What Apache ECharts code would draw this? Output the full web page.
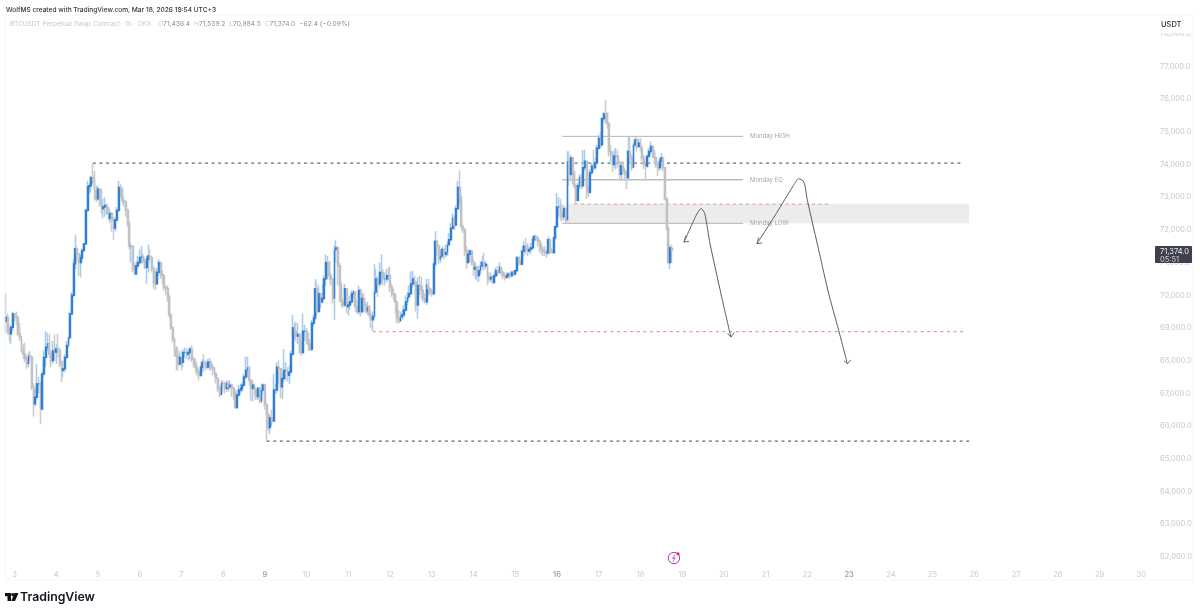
<!DOCTYPE html>
<html><head><meta charset="utf-8">
<style>html,body{margin:0;padding:0;background:#fff}#c{width:1200px;height:614px}</style>
<script src="https://cdn.jsdelivr.net/npm/echarts@6/dist/echarts.min.js"></script>
</head><body><div id="c"></div>
<script>
const opens=[69200,69330,68920,68820,69020,69430,69380,69330,68820,68720,68310,68200,68050,67900,68155,68100,67190,66680,66880,67290,67290,66520,67590,68100,68410,68510,68200,68000,68300,68260,68360,68310,67900,67700,67750,68100,68460,68700,69430,70000,70960,71420,71270,71000,71150,71370,71570,72600,
73310,73350,73600,73500,73200,72950,73250,72800,72650,72700,72750,72500,72350,72500,72300,72050,72300,72600,73300,73250,72900,72850,72600,72200,71500,71500,70800,70650,70900,71000,71150,71200,71050,70850,71100,71200,71150,70800,70400,70350,70700,71000,70650,70600,70250,70200,69950,69400,69000,68650,68350,68150,67900,68100,67950,68250,68250,68200,68250,68350,68050,67900,67800,67650,67550,67800,67950,67900,67800,67950,67950,67800,67750,67600,67450,67150,66950,67320,67300,67150,67300,67200,67250,67150,66950,66560,66950,67100,67150,67250,67500,67700,67800,67400,67150,67250,67100,66900,67150,66750,67100,67250,66650,
66350,65950,66250,66150,67100,67100,67800,67750,67200,67450,67700,67700,67550,67650,68200,69000,68900,68750,68800,68300,68250,68900,68900,68650,68500,68350,69150,69300,70200,69500,70050,69800,69900,70500,71000,71000,70600,70500,69900,71400,71450,70900,70300,69800,69700,70200,69650,69700,69800,70050,70100,69650,69500,70150,69500,69900,69700,69500,69650,69400,69250,69350,70100,70500,70350,70700,70700,70500,70500,70600,70600,70250,70050,70000,69800,69300,69200,69350,69400,69550,69800,69950,70050,70350,70500,70400,69700,70300,70250,70150,69900,69800,70300,70200,70100,70050,70950,71650,71500,71100,71200,71400,71250,71300,71550,71700,72050,72350,72150,72650,73300,73000,72100,72000,71350,
71000,71250,71350,71000,70800,70850,70600,70750,70900,71000,70900,70950,70550,70500,70550,70400,70600,70750,70700,70850,70700,70600,70550,70600,70650,70600,70700,70650,70750,71150,71000,70950,71350,71500,71400,71350,71400,71450,71700,71800,71750,71650,71500,71400,71350,71300,71300,71700,71350,71300,71750,72100,72700,72700,72500,72400,72650,72300,74100,73700,74200,73750,73350,72900,73350,73600,73350,73900,74100,73300,73150,73750,73950,73900,74050,74500,74800,74600,75400,75550,75500,75250,74400,74300,74000,74250,74250,74050,73700,73950,73800,73700,73600,74400,74200,73900,74600,74750,74550,74650,74500,74200,74000,73950,74250,74400,74550,74350,74200,74000,73900,74100,74200,73900,72950,72050,71000,71436];
const closes=[69330,68920,68820,69020,69430,69380,69330,68820,68720,68310,68200,68050,67900,68155,68100,67190,66680,66880,67290,67290,66520,67590,68100,68410,68510,68200,68000,68300,68260,68360,68310,67900,67700,67750,68100,68460,68700,69430,70000,70960,71420,71270,71000,71150,71370,71570,72600,73310,
73350,73600,73500,73200,72950,73250,72800,72650,72700,72750,72500,72350,72500,72300,72050,72300,72600,73300,73250,72900,72850,72600,72200,71500,71500,70800,70650,70900,71000,71150,71200,71050,70850,71100,71200,71150,70800,70400,70350,70700,71000,70650,70600,70250,70200,69950,69400,69000,68650,68350,68150,67900,68100,67950,68250,68250,68200,68250,68350,68050,67900,67800,67650,67550,67800,67950,67900,67800,67950,67950,67800,67750,67600,67450,67150,66950,67320,67300,67150,67300,67200,67250,67150,66950,66560,66950,67100,67150,67250,67500,67700,67800,67400,67150,67250,67100,66900,67150,66750,67100,67250,66650,66350,
65950,66250,66150,67100,67100,67800,67750,67200,67450,67700,67700,67550,67650,68200,69000,68900,68750,68800,68300,68250,68900,68900,68650,68500,68350,69150,69300,70200,69500,70050,69800,69900,70500,71000,71000,70600,70500,69900,71400,71450,70900,70300,69800,69700,70200,69650,69700,69800,70050,70100,69650,69500,70150,69500,69900,69700,69500,69650,69400,69250,69350,70100,70500,70350,70700,70700,70500,70500,70600,70600,70250,70050,70000,69800,69300,69200,69350,69400,69550,69800,69950,70050,70350,70500,70400,69700,70300,70250,70150,69900,69800,70300,70200,70100,70050,70950,71650,71500,71100,71200,71400,71250,71300,71550,71700,72050,72350,72150,72650,73300,73000,72100,72000,71350,71000,
71250,71350,71000,70800,70850,70600,70750,70900,71000,70900,70950,70550,70500,70550,70400,70600,70750,70700,70850,70700,70600,70550,70600,70650,70600,70700,70650,70750,71150,71000,70950,71350,71500,71400,71350,71400,71450,71700,71800,71750,71650,71500,71400,71350,71300,71300,71700,71350,71300,71750,72100,72700,72700,72500,72400,72650,72300,74100,73700,74200,73750,73350,72900,73350,73600,73350,73900,74100,73300,73150,73750,73950,73900,74050,74500,74800,74600,75400,75550,75500,75250,74400,74300,74000,74250,74250,74050,73700,73950,73800,73700,73600,74400,74200,73900,74600,74750,74550,74650,74500,74200,74000,73950,74250,74400,74550,74350,74200,74000,73900,74100,74200,73900,72950,72050,71000,71450,71374];
const highs=[70050,69450,69000,69100,69500,69450,69500,69350,69150,68750,68500,68550,68150,68250,68300,68150,67300,67100,67900,67500,67350,67700,68300,68900,68850,68800,68300,68600,68800,68500,68820,68400,68000,68000,68200,68600,68750,69500,70100,71100,71850,71500,71300,71250,71450,71600,72650,73500,
73450,73650,74040,73800,73350,73350,73200,73250,72950,73000,72800,72700,72650,72550,72400,72400,72700,73500,73400,73300,73000,72900,72650,72250,71600,71350,71000,71050,71200,71400,71500,71280,71150,71200,71550,71400,71200,70900,70750,70850,71100,71000,70750,70650,70300,70300,70000,69450,69050,68700,68450,68400,68300,68100,68350,68400,68400,68350,68420,68470,68100,68050,67950,67750,67850,68050,68200,68000,68050,68080,68000,67900,67800,67650,67500,67250,67400,67400,67350,67400,67380,67400,67300,67200,67050,67100,67250,67300,67350,67600,68120,68120,67800,67450,67400,67300,67200,67200,67200,67290,67300,67300,66700,
66400,66350,66500,67600,67300,67950,68000,67700,67600,68350,67950,67800,67850,68300,69400,69150,69200,69150,68850,68600,69450,69100,69000,68850,68650,69250,69400,70500,70400,70300,70050,70350,70600,71250,71200,71050,70700,70500,71550,71700,71500,71000,70400,69900,70350,70200,69800,70000,70150,70150,70100,69850,70300,70200,70050,70050,69800,69800,69700,69550,69500,70950,70800,70600,71000,71250,70800,70700,70800,70850,70880,70350,70200,70050,69800,69550,69500,69550,69700,70000,70100,70300,70720,70750,70600,70450,70550,70600,70550,70300,70050,70500,70500,70250,70200,71000,71960,71700,71550,71400,71500,71450,71550,71650,71900,72200,72500,72450,72750,73500,73820,73050,72200,72050,71500,
71400,71400,71400,71100,71000,70900,70900,71050,71200,71300,71050,70950,70700,70700,70600,70700,70850,70900,71000,70850,70750,70700,70700,70700,70700,70750,70750,70800,71200,71200,71100,71500,71650,71750,71600,71500,71600,71800,71850,71850,71800,71700,71600,71500,71500,71400,71800,71750,71450,71800,72100,73130,73000,72950,72800,72750,72700,74400,74400,74300,74230,73800,73400,73450,73700,73700,74450,74450,74100,73350,73850,74050,74450,74200,74600,74900,75000,75450,75600,75970,75600,75300,74600,74400,74450,74500,74450,74100,74100,74100,73900,73800,74850,74850,74300,74650,74850,74800,74800,74800,74600,74300,74100,74300,74500,74700,74600,74450,74250,74100,74200,74350,74250,73900,73000,72100,71550,71539];
const lows=[68850,68800,68600,68500,68900,69200,69100,68750,68600,68250,68050,67950,67750,67800,68000,67100,66290,66600,66800,67000,66060,66500,67500,67800,68300,68100,67800,67900,68000,67900,68100,67800,67350,67500,67650,68050,68400,68650,69400,69950,70800,71000,70600,70550,71100,71300,71550,72550,
73100,73150,73400,72900,72850,72900,72700,72500,72350,72400,72450,72300,72200,71950,71700,71950,72250,72550,73000,72800,72700,72400,72100,71400,71000,70700,70620,70620,70800,70950,71000,70950,70800,70350,70700,71000,70700,70200,70150,70350,70600,70500,70350,70150,70000,69800,69300,68950,68550,68120,67700,67700,67850,67700,67800,68100,68050,68000,68050,67950,67800,67650,67550,67390,67500,67650,67700,67700,67750,67700,67700,67550,67500,67300,67050,66880,66950,67050,67000,67050,67050,67100,66900,66800,66550,66550,66900,67000,67050,67200,67450,67500,67250,66780,66750,66950,66800,66800,66700,66700,67000,66500,65550,
65850,65750,66000,66300,67000,67000,67300,66850,66820,67350,67400,67350,67290,67600,68150,68650,68600,68500,68200,68150,68200,68600,68500,68300,68300,68300,69050,69250,69350,69500,69600,69750,69850,70300,70500,70450,70300,69750,69250,71000,70300,69800,69650,69600,69650,69450,69380,69550,69750,69900,69500,69450,69400,69350,69450,69500,69450,69400,69300,69000,68900,69300,70050,69950,70250,70400,70300,70300,70400,70450,70100,69950,69850,69450,69150,69130,69200,69250,69300,69500,69700,69850,70000,70250,70300,69500,69280,70000,69900,69800,69750,69700,70000,70000,69950,70000,70900,71200,70960,71000,71150,71100,71150,71200,71500,71650,72000,72000,72100,72600,72800,72000,71900,71200,70810,
71000,71000,70900,70600,70500,70450,70400,70650,70800,70750,70800,70300,70400,70400,70330,70350,70550,70600,70650,70600,70500,70450,70500,70550,70500,70550,70600,70600,70700,70900,70900,70950,71200,71250,71200,71300,71250,71400,71650,71650,71500,71300,71250,71200,71200,71150,71250,71250,71300,71300,71700,72050,72400,72300,72250,72300,72200,72250,73350,73500,73400,73250,72800,72900,73250,73250,73300,73800,72950,73000,73100,73700,73800,73850,74000,74450,74500,74550,75300,75250,75100,74250,74000,73770,73900,73850,73900,73510,73500,73700,73500,73250,73550,74050,73800,73900,74500,74400,74500,74400,74100,73850,73500,73900,74200,74300,74200,74000,73900,73650,73800,73950,73800,72900,71980,70950,70800,70984];

const dayLabels=[3,4,5,6,7,8,9,10,11,12,13,14,15,16,17,18,19,20,21,22,23,24,25,26,27,28,29,30];
const mondayDays=[9,16,23];
const hoursBeforeFirstDay=5;
const hourCount=662;
const hourCategories=[];
for(let i=0;i<hourCount;i++){const k=i-hoursBeforeFirstDay;const d=dayLabels[0]+Math.floor(k/24);const h=((k%24)+24)%24;hourCategories.push(d+' '+h+':00');}

const candleRows=opens.map((o,i)=>[o,closes[i],lows[i],highs[i]]);
const bodyRows=opens.map((o,i)=>{const a=Math.min(o,closes[i]),b=Math.max(o,closes[i]);return [o,closes[i],a,b];});

const levelNames=['Monday HIGH','Monday EQ','Monday LOW'];
const levelPrices=[74860,73530,72200];
const levelStart=320, levelEnd=424;
const dashedLevels=[[50,549,74040,'#66686d'],[150,554,65540,'#66686d'],[211,551,68890,'#e59a9a'],[327,474,72790,'#e8a8a8']];
const boxRange=[322,554,72800,72200];
const curveA=[[390,71626],[397,72442],[399,72615],[400,72646],[402,72493],[405,71576],[413,69640],[417,68722]];
const curveB=[[432,71576],[443,72493],[453,73359],[456,73563],[459,73461],[461,72900],[468,71270],[473,70100],[479,68926],[484,67907]];
const arrowHeads=[
 [[393,71650],[390,71626],[391,71820]],
 [[415,68830],[417,68722],[419,68860]],
 [[435,71600],[432,71576],[433,71770]],
 [[482,68000],[484,67907],[486,68020]]];

const UP='#2f7fd3',UPW='#a9cbee',DN='#c0c0c5',DNW='#cbcbd0';
const F='Inter, Roboto, sans-serif';
const series=[];
series.push({type:'line',data:[],silent:true,markArea:{silent:true,itemStyle:{color:'#ececec'},data:[[{xAxis:hourCategories[boxRange[0]],yAxis:boxRange[2]},{xAxis:hourCategories[boxRange[1]],yAxis:boxRange[3]}]]},z:1});
levelNames.forEach((n,k)=>{series.push({type:'line',silent:true,showSymbol:false,symbol:'none',z:2,lineStyle:{color:k==1?'#9a9a9a':'#b4b4b4',width:1},data:[[levelStart,levelPrices[k]],[levelEnd,levelPrices[k]]],endLabel:{show:true,formatter:n,color:'#a6a7ae',fontSize:6,fontFamily:F,distance:7}});});
dashedLevels.forEach(d=>{series.push({type:'line',silent:true,showSymbol:false,symbol:'none',z:2,lineStyle:{color:d[3],width:1.2,type:[3,3.6]},data:[[d[0],d[2]],[d[1],d[2]]]});});
series.push({type:'candlestick',data:candleRows,barWidth:1.2,z:3,silent:true,itemStyle:{color:UPW,color0:DNW,borderColor:UPW,borderColor0:DNW,borderWidth:1.6}});
series.push({type:'candlestick',data:bodyRows,barWidth:1.4,z:4,silent:true,itemStyle:{color:UP,color0:DN,borderColor:UP,borderColor0:DN,borderWidth:1.4}});
[curveA,curveB].forEach(c=>{series.push({type:'line',silent:true,showSymbol:false,symbol:'none',smooth:0.25,z:5,lineStyle:{color:'#5b5c60',width:1},data:c});});
arrowHeads.forEach(c=>{series.push({type:'line',silent:true,showSymbol:false,symbol:'none',z:5,lineStyle:{color:'#5b5c60',width:0.9},data:c});});

const chart=echarts.init(document.getElementById('c'),null,{renderer:'canvas'});
chart.setOption({
 animation:false,backgroundColor:'#ffffff',
 title:{text:'WolfMS created with TradingView.com, Mar 18, 2026 19:54 UTC+3',left:1,top:1.5,textStyle:{fontSize:6.6,fontWeight:500,color:'#333338',fontFamily:F}},
 grid:{left:5,right:44,top:1,bottom:24.5,show:false},
 xAxis:{type:'category',data:hourCategories,boundaryGap:true,
  axisLine:{show:false},axisTick:{show:false},splitLine:{show:false},
  axisLabel:{inside:true,margin:11,hideOverlap:false,interval:(i)=>(i-hoursBeforeFirstDay)%24===0&&i>=hoursBeforeFirstDay,
   formatter:(v)=>{const d=+v.split(' ')[0];return mondayDays.includes(d)?'{b|'+d+'}':'{n|'+d+'}';},
   rich:{n:{color:'#c9cad0',fontSize:7.5,fontFamily:F},b:{color:'#a2a3aa',fontSize:7.5,fontWeight:600,fontFamily:F}}}},
 yAxis:{type:'value',position:'right',min:61000,max:79000,interval:1000,scale:true,
  axisLine:{show:false},axisTick:{show:false},splitLine:{show:false},
  axisLabel:{margin:4,color:'#c6c7cd',fontSize:7.5,fontFamily:F,showMinLabel:false,showMaxLabel:false,
   formatter:(v)=>v.toLocaleString('en-US',{minimumFractionDigits:1,maximumFractionDigits:1})}},
 series,
 graphic:[
  {type:'rect',z:100,shape:{x:5,y:15,width:1188,height:565},style:{fill:'none',stroke:'#f6f6f8',lineWidth:1},silent:true},
  {type:'text',z:101,x:10,y:20.5,style:{text:'BTCUSDT Perpetual Swap Contract · 1h · OKX',fill:'#c6c8ce',fontSize:6.55,fontFamily:F}},
  {type:'text',z:101,x:158,y:20.5,style:{text:'{k|O}{v|71,436.4}  {k|H}{v|71,539.2}  {k|L}{v|70,984.5}  {k|C}{v|71,374.0}  {v|−62.4 (−0.09%)}',fontFamily:F,fontSize:6.7,
    rich:{k:{fill:'#c6c8ce',fontSize:6.7,fontFamily:F},v:{fill:'#8b8d95',fontSize:6.7,fontFamily:F}}}},
  {type:'rect',z:110,shape:{x:1155,y:17,width:37,height:16},style:{fill:'#ffffff'}},
  {type:'text',z:111,x:1161,y:20.5,style:{text:'USDT',fill:'#333338',fontSize:7.5,fontWeight:500,fontFamily:F}},
  {type:'rect',z:110,shape:{x:1155,y:246,width:37,height:17,r:1},style:{fill:'#3e414c'}},
  {type:'text',z:111,x:1160,y:247.5,style:{text:'71,374.0',fill:'#eeeef0',fontSize:7.5,fontFamily:F}},
  {type:'text',z:111,x:1160,y:255.5,style:{text:'05:51',fill:'#d0d0d4',fontSize:7.5,fontFamily:F}},
  {type:'circle',z:105,shape:{cx:674,cy:558,r:5.7},style:{fill:'#fff',stroke:'#a23db8',lineWidth:1}},
  {type:'polyline',z:106,shape:{points:[[675,554.5],[672.5,558.5],[675.2,557.8],[673,561.5]]},style:{fill:'none',stroke:'#a23db8',lineWidth:0.8}},
  {type:'circle',z:107,shape:{cx:678,cy:553.8,r:1.6},style:{fill:'#e5206a'}},
  {type:'polygon',z:105,shape:{points:[[5,593],[11,593],[11,601],[7.5,601],[7.5,596.2],[5,596.2]]},style:{fill:'#111'}},
  {type:'circle',z:105,shape:{cx:12.8,cy:594.6,r:1.6},style:{fill:'#111'}},
  {type:'polygon',z:105,shape:{points:[[14.6,593],[18.5,593],[15,601],[11.2,601]]},style:{fill:'#111'}},
  {type:'text',z:105,x:20,y:591,style:{text:'TradingView',fill:'#131722',fontSize:12.3,fontWeight:600,fontFamily:F}}
 ]
});
</script></body></html>
